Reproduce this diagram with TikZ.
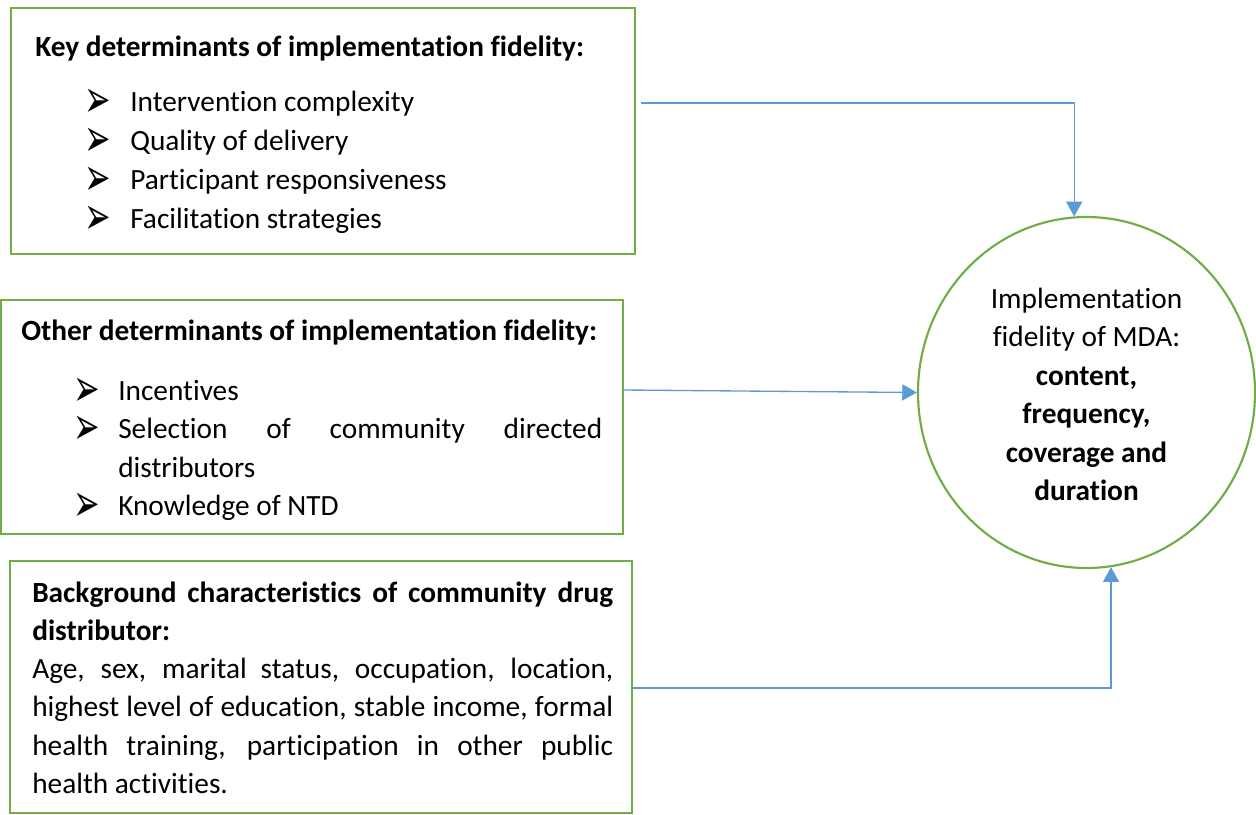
\documentclass[tikz,border=0pt]{standalone}
\usepackage{fontspec}
\usepackage{graphicx}
\setmainfont{Carlito}[Ligatures=NoCommon]
\newfontfamily\dingfont{DejaVu Sans}
\usetikzlibrary{arrows.meta,shapes.geometric,fit}
\definecolor{framegreen}{HTML}{70AD47}
\definecolor{linkblue}{HTML}{5B9BD5}
\newcommand{\arrowbullet}{\smash{\raisebox{-4.5pt}{\scalebox{1.4}[2.35]{\dingfont\fontsize{17}{17}\selectfont ➢}}}}

\begin{document}
\begin{tikzpicture}[x=0.75pt,y=-0.75pt,
  frame/.style={draw=framegreen,line width=1.6pt,inner sep=0pt},
  txt/.style={anchor=base west,inner sep=0pt,font=\fontsize{22}{26}\selectfont},
  boldtxt/.style={txt,font=\fontsize{22}{26}\selectfont\bfseries},
  ctr/.style={anchor=base,inner sep=0pt,font=\fontsize{22}{26}\selectfont},
  boldctr/.style={ctr,font=\fontsize{22}{26}\selectfont\bfseries},
  bulletsym/.style={anchor=base west,inner sep=0pt,text height=14pt,text depth=0pt},
  link/.style={draw=linkblue,line width=1pt,-{Triangle[length=11pt,width=12pt]}}
]
\useasboundingbox (0,0) rectangle (1256,814);

% ---- boxes ----
\node[frame,fit={(11,8) (635,254)}] (key) {};
\node[frame,fit={(1,300) (623,534)}] (other) {};
\node[frame,fit={(10,561) (632,813)}] (back) {};
\node[draw=framegreen,line width=1.6pt,ellipse,inner sep=0pt,
      minimum width=337*0.75pt,minimum height=351*0.75pt] (out) at (1086.5,392.5) {};

% ---- key determinants ----
\node[boldtxt] (kt) at (35,56) {Key determinants of implementation fidelity:};
\node[bulletsym] (kb1) at (84,111) {\arrowbullet};
\node[bulletsym] (kb2) at (84,150) {\arrowbullet};
\node[bulletsym] (kb3) at (84,189) {\arrowbullet};
\node[bulletsym] (kb4) at (84,228) {\arrowbullet};
\node[txt] (k1) at (130,111) {Intervention complexity};
\node[txt] (k2) at (130,150) {Quality of delivery};
\node[txt] (k3) at (130,189) {Participant responsiveness};
\node[txt] (k4) at (130,228) {Facilitation strategies};

% ---- other determinants ----
\node[boldtxt] (ot) at (21,340) {Other determinants of implementation fidelity:};
\node[bulletsym] (ob1) at (73,400) {\arrowbullet};
\node[bulletsym] (ob2) at (73,438) {\arrowbullet};
\node[bulletsym] (ob3) at (73,515) {\arrowbullet};
\node[txt] (o1) at (118,400) {Incentives};
\node[txt] (o2) at (118,438) {\makebox[363pt][s]{Selection of community directed}};
\node[txt] (o2b) at (118,477) {distributors};
\node[txt] (o3) at (118,515) {Knowledge of NTD};

% ---- background characteristics ----
\node[boldtxt] (bt1) at (32,602) {\makebox[435.75pt][s]{Background characteristics of community drug}};
\node[boldtxt] (bt2) at (32,640) {distributor:};
\node[txt] (b1) at (32,678) {\makebox[435.75pt][s]{Age, sex, marital status, occupation, location,}};
\node[txt] (b2) at (32,716) {\makebox[435.75pt][s]{highest level of education, stable income, formal}};
\node[txt] (b3) at (32,755) {\makebox[435.75pt][s]{health training, participation in other public}};
\node[txt] (b4) at (32,793) {health activities.};

% ---- outcome ----
\node[ctr] (c1) at (1086.5,308) {Implementation};
\node[ctr] (c2) at (1086.5,346) {fidelity of MDA:};
\node[boldctr] (c3) at (1086.5,385) {content,};
\node[boldctr] (c4) at (1086.5,423) {frequency,};
\node[boldctr] (c5) at (1086.5,462) {coverage and};
\node[boldctr] (c6) at (1086.5,500) {duration};

% ---- connectors ----
\coordinate (s1) at (641,103);
\coordinate (s2) at (624,390);
\coordinate (s3) at (633,688);
\draw[link] (s1) -| (out.94);
\draw[link] (s2) -- (out.west);
\draw[link] (s3) -| (out.278);
\end{tikzpicture}
\end{document}
